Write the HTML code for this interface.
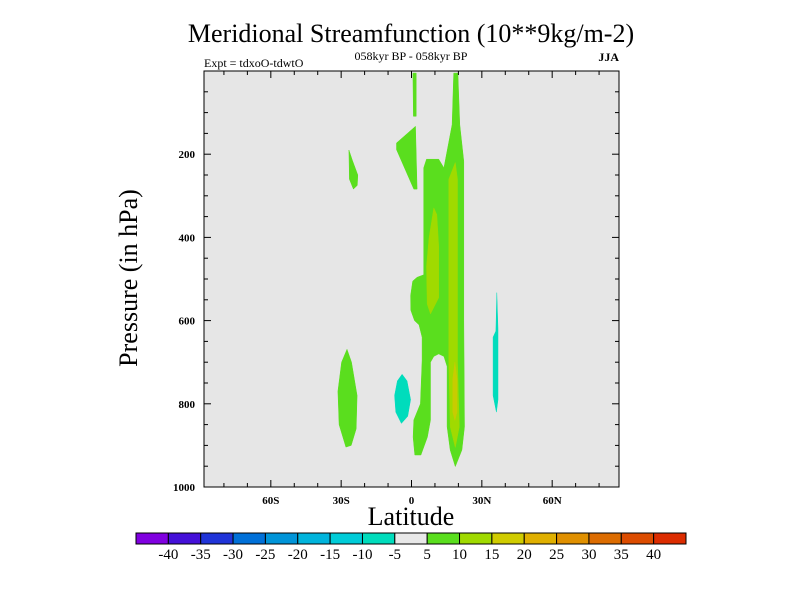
<!DOCTYPE html>
<html><head><meta charset="utf-8"><style>
html,body{margin:0;padding:0;background:#fff}
svg{display:block;font-family:"Liberation Serif",serif}
</style></head><body>
<svg id="chart" width="800" height="600" viewBox="0 0 800 600">
<text x="411" y="42" font-size="26" text-anchor="middle">Meridional Streamfunction (10**9kg/m-2)</text>
<text x="411" y="60" font-size="12" text-anchor="middle">058kyr BP - 058kyr BP</text>
<text x="204" y="67" font-size="12">Expt = tdxoO-tdwtO</text>
<text x="619" y="61" font-size="12" text-anchor="end" font-weight="bold">JJA</text>
<text x="0" y="0" font-size="26" text-anchor="middle" transform="translate(137,278) rotate(-90)">Pressure (in hPa)</text>
<text x="411" y="525" font-size="26" text-anchor="middle">Latitude</text>
<g id="plot"></g>
<g id="cbar"></g>
</svg>
<script>
const latTicks=[-60,-30,0,30,60];
const latTickLabels=["60S","30S","0","30N","60N"];
const presTicks=[200,400,600,800,1000];
const cbarLevels=[-40,-35,-30,-25,-20,-15,-10,-5,5,10,15,20,25,30,35,40];
const cbarColors=["#8000e0","#4410d8","#2034d8","#0070d8","#0094d8","#00b4dc","#00ccd8","#00dcbc","#e8e8e8","#5ade1e","#a0da00","#d0cc00","#e0b000","#e09000","#dc6c00","#dc4c00","#dc2c00"];
const shapeColors=["#5ade1e","#5ade1e","#00dcbc","#5ade1e","#5ade1e","#5ade1e","#a0da00","#a0da00","#c8cc00","#00dcbc"];
const shapeLat=[
[-26.7,-25.2,-22.9,-23.1,-24.8,-26.5],
[-27.5,-25.6,-23.2,-23.6,-25.7,-28.0,-30.9,-31.4,-29.8],
[-4.0,-1.9,-0.4,-1.6,-4.3,-6.7,-7.2,-6.0],
[0.6,2.0,2.0,0.8],
[-6.4,1.7,2.4,1.0,-6.4],
[18.0,19.8,20.6,22.3,22.3,22.6,21.5,18.7,16.5,15.2,15.2,13.8,11.6,9.5,8.1,8.1,6.8,4.0,1.4,0.7,1.0,3.8,4.5,4.5,3.2,1.3,-0.3,-0.4,0.5,2.4,5.2,5.2,6.4,11.6,13.8,17.3],
[9.5,10.8,11.6,11.6,8.1,6.7,6.4,7.5],
[18.7,19.6,19.6,20.4,18.7,16.5,15.9,15.9],
[18.5,19.4,19.4,18.5,17.6,17.6],
[36.4,36.9,36.9,36.2,34.8,34.8,36.0]];
const shapePres=[
[190,215,250,275,284,260],
[669,700,780,860,900,904,850,770,700],
[729,745,790,830,847,820,780,745],
[5,5,109,109],
[173,133,284,284,189],
[5,5,129,217,600,855,911,951,911,855,710,686,680,686,700,839,880,923,923,880,839,800,696,640,610,600,575,540,505,496,490,233,212,212,233,129],
[329,345,420,545,584,560,470,400],
[220,260,700,855,905,855,700,260],
[700,740,820,840,820,740],
[533,620,790,820,780,640,625]];
const L=204,R=619,T=71,B=487,latMin=-88.5,latMax=88.5,pMin=0,pMax=1000;
const X=v=>L+(v-latMin)/(latMax-latMin)*(R-L);
const Y=p=>T+(p-pMin)/(pMax-pMin)*(B-T);
const NS="http://www.w3.org/2000/svg";
const plot=document.getElementById('plot');
function mk(tag,attrs,parent){const e=document.createElementNS(NS,tag);for(const k in attrs)e.setAttribute(k,attrs[k]);parent.appendChild(e);return e;}
const bg=mk('rect',{x:L,y:T,width:R-L,height:B-T,fill:'#e6e6e6'},plot);


shapeLat.forEach((lats,i)=>{
  const pts=lats.map((la,j)=>X(la).toFixed(1)+','+Y(shapePres[i][j]).toFixed(1)).join(' ');
  const poly=mk('polygon',{points:pts,fill:shapeColors[i],'stroke':shapeColors[i],'stroke-width':0.5,'stroke-linejoin':'round'},plot);
  
  
});
const frame=mk('rect',{x:L,y:T,width:R-L,height:B-T,fill:'none',stroke:'#000','stroke-width':1},plot);


for(let la=-80;la<=80;la+=10){
  const major=la%30===0;const len=major?7:4;
  mk('line',{x1:X(la),x2:X(la),y1:B,y2:B-len,stroke:'#000'},plot);
  mk('line',{x1:X(la),x2:X(la),y1:T,y2:T+len,stroke:'#000'},plot);
}
latTicks.forEach((la,i)=>{
  const t=mk('text',{x:X(la),y:B+17,'font-size':11,'font-weight':'bold','text-anchor':'middle'},plot);
  t.textContent=latTickLabels[i];
  
  
});
for(let p=50;p<1000;p+=50){
  const major=p%200===0;const len=major?7:4;
  mk('line',{x1:L,x2:L+len,y1:Y(p),y2:Y(p),stroke:'#000'},plot);
  mk('line',{x1:R,x2:R-len,y1:Y(p),y2:Y(p),stroke:'#000'},plot);
}
presTicks.forEach(p=>{
  const t=mk('text',{x:L-9,y:Y(p)+4,'font-size':11,'font-weight':'bold','text-anchor':'end'},plot);
  t.textContent=p;
  
  
});
const cb=document.getElementById('cbar');
const cbL=136,cbR=686,cbT=533,cbH=11,bw=(cbR-cbL)/cbarColors.length;
cbarColors.forEach((c,i)=>{
  const r=mk('rect',{x:cbL+i*bw,y:cbT,width:bw,height:cbH,fill:c,stroke:'#000','stroke-width':1},cb);
  
  
});
cbarLevels.forEach((v,i)=>{
  const t=mk('text',{x:cbL+(i+1)*bw,y:cbT+26,'font-size':15,'text-anchor':'middle'},cb);
  t.textContent=v;
  
  
});
</script>
</body></html>
